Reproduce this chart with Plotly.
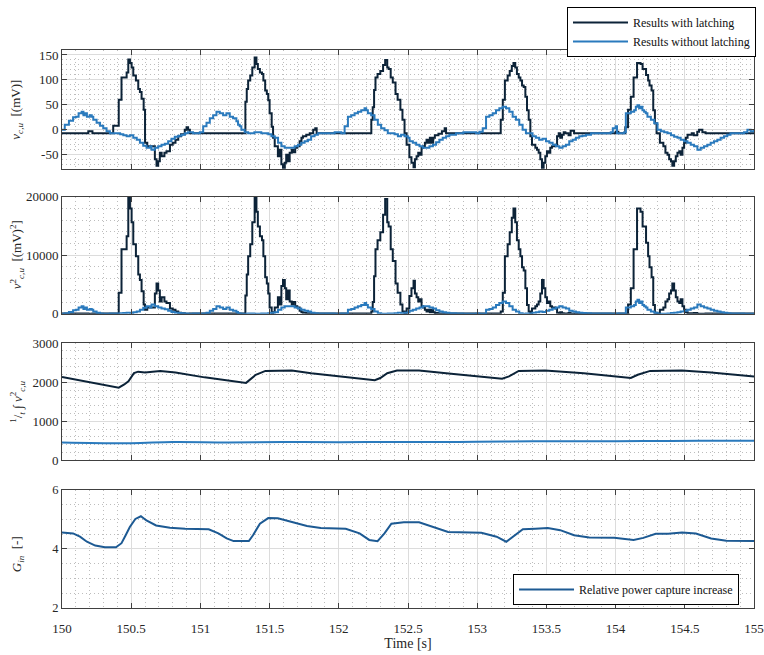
import plotly.graph_objects as go

# ---------------- data ----------------
t_lat = [150.00,150.19,150.22,150.37,150.41,150.43,150.455,150.467,150.479,150.491,150.503,150.515,150.534,150.551,150.563,150.575,150.59,150.60,150.616,150.659,150.671,150.683,150.695,150.707,150.72,150.74,150.755,150.78,150.80,150.82,150.84,150.86,150.887,150.90,150.911,150.924,
         151.325,151.335,151.345,151.36,151.375,151.392,151.405,151.415,151.43,151.445,151.455,151.468,151.48,151.49,151.50,151.515,151.525,151.537,151.56,151.573,151.585,151.597,151.61,151.62,151.633,151.645,151.66,151.67,151.685,151.70,151.717,151.73,151.741,151.765,151.79,151.815,151.83,151.84,
         152.235,152.245,152.255,152.265,152.28,152.30,152.32,152.335,152.35,152.36,152.375,152.39,152.41,152.425,152.445,152.46,152.475,152.49,152.51,152.525,152.54,152.55,152.562,152.574,152.586,152.598,152.61,152.622,152.634,152.646,152.658,152.67,152.682,152.694,152.72,152.745,152.765,152.775,
         153.17,153.185,153.20,153.22,153.235,153.25,153.262,153.275,153.287,153.30,153.312,153.324,153.336,153.348,153.36,153.372,153.384,153.396,153.42,153.432,153.444,153.456,153.468,153.48,153.492,153.504,153.516,153.528,153.54,153.565,153.577,153.589,153.60,153.613,153.625,153.637,153.66,153.675,153.70,
         154.00,154.02,154.07,154.09,154.11,154.13,154.155,154.18,154.195,154.22,154.235,154.245,154.26,154.272,154.284,154.296,154.32,154.345,154.36,154.375,154.387,154.40,154.41,154.423,154.435,154.447,154.46,154.47,154.483,154.495,154.507,154.52,154.55,154.565,154.59,154.603,154.627,154.65,155.00]
v_lat = [-7,-3,-7,8,60,105,105,115,141,134,125,109,99,82,76,62,40,-26,-33,-33,-59,-72,-63,-46,-53,-46,-43,-30,-26,-20,-13,-9,0,5,0,-7,
         56,82,99,109,125,145,132,122,115,112,99,79,72,59,33,6,-16,-33,-53,-40,-69,-76,-66,-50,-63,-46,-40,-45,-36,-33,-23,-16,-13,-10,-7,0,3,-7,
         20,45,80,105,112,118,130,140,125,122,105,95,72,60,40,20,-7,-30,-55,-66,-75,-59,-53,-46,-50,-36,-33,-26,-20,-26,-16,-26,-16,-11,-8,-3,3,-7,
         20,60,99,109,118,128,134,125,112,105,99,89,86,66,39,20,-13,-30,-36,-40,-46,-59,-76,-66,-53,-43,-46,-36,-33,-30,-13,-7,-16,-10,-5,-7,-11,-2,-7,
         -4,-7,5,40,66,105,134,132,122,110,99,89,79,39,13,-7,-26,-33,-46,-50,-59,-63,-72,-63,-53,-46,-43,-50,-36,-26,-16,-10,-7,-11,-4,0,-5,-7,-7]

t_nl = [150.00,150.02,150.05,150.08,150.10,150.12,150.142,150.155,150.165,150.18,150.20,150.215,150.226,150.25,150.275,150.298,150.322,150.346,150.42,150.443,150.467,150.49,150.515,150.54,150.563,150.587,150.611,150.635,150.647,150.67,150.695,150.719,150.743,150.767,150.791,150.815,150.84,150.864,150.888,150.91,150.947,150.996,
        151.02,151.044,151.068,151.092,151.116,151.14,151.164,151.188,151.212,151.236,151.26,151.272,151.284,151.296,151.32,151.345,151.39,151.44,151.49,151.513,151.537,151.561,151.585,151.609,151.681,151.705,151.729,151.753,151.777,151.80,151.825,151.849,151.97,
        152.018,152.042,152.066,152.09,152.114,152.138,152.162,152.186,152.198,152.21,152.234,152.258,152.282,152.306,152.33,152.354,152.403,152.427,152.45,152.475,152.499,152.511,152.535,152.559,152.583,152.607,152.655,152.68,152.703,152.727,152.751,152.775,152.799,152.847,152.90,152.992,
        153.016,153.04,153.064,153.088,153.112,153.136,153.16,153.184,153.208,153.232,153.256,153.28,153.304,153.328,153.352,153.40,153.424,153.448,153.472,153.497,153.521,153.545,153.569,153.593,153.617,153.641,153.665,153.689,153.713,153.737,153.76,153.786,153.822,153.94,153.965,153.98,
        154.00,154.01,154.062,154.074,154.11,154.134,154.146,154.158,154.17,154.182,154.194,154.206,154.218,154.23,154.255,154.279,154.303,154.327,154.351,154.375,154.40,154.423,154.447,154.47,154.495,154.519,154.543,154.567,154.591,154.615,154.639,154.663,154.687,154.711,154.735,154.759,154.783,154.807,154.83,154.928,154.952,154.976,155.00]
v_nl = [0,10,18,25,26,33,36,29,33,26,29,26,20,14,8,3,-3,-7,-9,-11,-13,-11,-16,-20,-26,-32,-36,-33,-40,-36,-33,-30,-28,-23,-18,-14,-12,-10,-7,-5,-7,-5,
        7,14,23,29,36,33,29,33,26,23,17,10,7,0,-5,-7,-5,-7,-9,-13,-16,-26,-33,-36,-33,-30,-26,-23,-20,-13,-10,-7,-5,
        -7,7,26,29,33,36,39,43,39,33,29,20,10,3,-1,-7,-9,-13,-10,-13,-16,-23,-26,-30,-33,-36,-33,-30,-25,-20,-16,-13,-10,-7,-5,-7,
        -4,3,26,29,33,39,43,46,43,36,26,20,10,0,-7,-13,-16,-20,-18,-23,-26,-30,-33,-36,-33,-30,-23,-20,-16,-13,-12,-10,-7,-7,-5,3,
        7,-7,-5,33,36,39,46,49,43,46,39,36,33,26,20,13,0,-3,-5,-7,-11,-14,-16,-20,-23,-26,-30,-33,-40,-36,-33,-30,-26,-23,-20,-16,-13,-10,-7,-5,0,-3,1]

# squared signal (panel 2) derived from the read voltages
v2_lat = [v * v for v in v_lat]
v2_nl = [v * v for v in v_nl]

t_avg = [150.0,150.41,150.45,150.48,150.52,150.55,150.6,150.71,150.82,151.03,151.33,151.36,151.4,151.47,151.66,151.8,152.01,152.26,152.3,152.35,152.42,152.58,152.83,153.18,153.23,153.3,153.49,153.77,154.11,154.16,154.25,154.48,154.69,155.0]
avg_lat = [2132,1860,1942,2025,2231,2270,2248,2289,2250,2124,1983,2066,2190,2289,2298,2231,2149,2050,2107,2231,2298,2298,2207,2091,2149,2289,2298,2231,2107,2190,2289,2298,2248,2149]
t_avg_nl = [150.0,150.5,150.8,151.2,151.6,152.0,152.3,152.6,153.0,153.4,153.8,154.2,154.6,155.0]
avg_nl = [458,440,470,460,472,462,470,468,476,490,488,495,500,500]

t_g = [150.0,150.08,150.13,150.18,150.24,150.31,150.39,150.43,150.46,150.49,150.53,150.57,150.61,150.68,150.78,150.89,151.06,151.13,151.19,151.24,151.35,151.38,151.43,151.49,151.56,151.66,151.77,151.87,152.05,152.15,152.22,152.28,152.33,152.38,152.47,152.58,152.68,152.79,153.03,153.14,153.21,153.26,153.33,153.42,153.51,153.6,153.7,153.81,153.99,154.13,154.2,154.29,154.38,154.48,154.58,154.69,154.8,155.0]
g_in = [4.55,4.52,4.41,4.24,4.11,4.05,4.05,4.19,4.46,4.74,5.01,5.10,4.96,4.79,4.71,4.68,4.66,4.52,4.35,4.26,4.26,4.46,4.85,5.04,5.03,4.90,4.77,4.70,4.68,4.52,4.30,4.26,4.52,4.85,4.90,4.90,4.74,4.57,4.54,4.41,4.24,4.41,4.66,4.68,4.70,4.63,4.46,4.38,4.37,4.30,4.37,4.51,4.51,4.55,4.52,4.35,4.27,4.26]

x_ticks = [150, 150.5, 151, 151.5, 152, 152.5, 153, 153.5, 154, 154.5, 155]
x_ticklabels = ["150", "150.5", "151", "151.5", "152", "152.5", "153", "153.5", "154", "154.5", "155"]
y1_ticks = [-50, 0, 50, 100, 150]
y2_ticks = [0, 10000, 20000]
y3_ticks = [0, 1000, 2000, 3000]
y4_ticks = [2, 4, 6]

# ---------------- figure ----------------
C_LAT = "#0c2338"
C_NL = "#2a7abd"
C_G = "#1d5a93"
FONT = "Liberation Serif"

fig = go.Figure()
fig.add_trace(go.Scatter(x=t_lat, y=v_lat, mode="lines", line=dict(color=C_LAT, width=2, shape="hv"),
                         name="Results with latching", xaxis="x", yaxis="y", legend="legend"))
fig.add_trace(go.Scatter(x=t_nl, y=v_nl, mode="lines", line=dict(color=C_NL, width=2, shape="hv"),
                         name="Results without latching", xaxis="x", yaxis="y", legend="legend"))
fig.add_trace(go.Scatter(x=t_lat, y=v2_lat, mode="lines", line=dict(color=C_LAT, width=2, shape="hv"),
                         showlegend=False, xaxis="x2", yaxis="y2"))
fig.add_trace(go.Scatter(x=t_nl, y=v2_nl, mode="lines", line=dict(color=C_NL, width=2, shape="hv"),
                         showlegend=False, xaxis="x2", yaxis="y2"))
fig.add_trace(go.Scatter(x=t_avg, y=avg_lat, mode="lines", line=dict(color=C_LAT, width=2),
                         showlegend=False, xaxis="x3", yaxis="y3"))
fig.add_trace(go.Scatter(x=t_avg_nl, y=avg_nl, mode="lines", line=dict(color=C_NL, width=2, shape="spline"),
                         showlegend=False, xaxis="x3", yaxis="y3"))
fig.add_trace(go.Scatter(x=t_g, y=g_in, mode="lines", line=dict(color=C_G, width=2),
                         name="Relative power capture increase", xaxis="x4", yaxis="y4", legend="legend2"))

H = 655.0
def dom(top, bottom):
    return [1 - bottom / H, 1 - top / H]

MINOR_GRID = dict(showgrid=True, gridcolor="#bdbdbd", griddash="1px,3px", gridwidth=1, ticks="")
common = dict(showline=True, linecolor="#404040", linewidth=1, mirror="ticks", ticks="inside",
              ticklen=5, tickcolor="#404040", showgrid=True, gridcolor="#dcdcdc", gridwidth=1,
              zeroline=False, ticklabeloverflow="allow",
              tickfont=dict(family=FONT, size=13, color="#262626"))

def minor_y(d):
    return dict(MINOR_GRID, dtick=d)

xa = dict(common, range=[150, 155], tickvals=x_ticks, ticktext=x_ticklabels,
          minor=dict(MINOR_GRID, dtick=0.1, tick0=150))

def yt(vals):
    return dict(tickvals=vals, ticktext=[str(v) for v in vals])

fig.update_layout(
    width=764, height=655,
    margin=dict(l=62, r=9, t=0, b=0),
    paper_bgcolor="white", plot_bgcolor="white",
    font=dict(family=FONT, size=12, color="#262626"),
    xaxis=dict(xa, anchor="y", showticklabels=False),
    xaxis2=dict(xa, anchor="y2", matches="x", showticklabels=False),
    xaxis3=dict(xa, anchor="y3", matches="x", showticklabels=False),
    xaxis4=dict(xa, anchor="y4", matches="x", showticklabels=True, ticklabelstandoff=8,
                title=dict(text="Time [s]", standoff=3, font=dict(family=FONT, size=14, color="#262626"))),
    yaxis=dict(common, domain=dom(44, 166), range=[-79, 160], **yt(y1_ticks),
               minor=minor_y(10), anchor="x"),
    yaxis2=dict(common, domain=dom(194, 314), range=[0, 20000], **yt(y2_ticks),
                minor=minor_y(2000), anchor="x2"),
    yaxis3=dict(common, domain=dom(344, 464), range=[0, 3000], **yt(y3_ticks),
                minor=minor_y(200), anchor="x3"),
    yaxis4=dict(common, domain=dom(494, 615), range=[2, 6], **yt(y4_ticks),
                minor=minor_y(0.5), anchor="x4"),
    legend=dict(x=(757 - 62) / 693, xanchor="right", y=1.0, yanchor="top", bgcolor="white",
                bordercolor="#000000", borderwidth=1, font=dict(family=FONT, size=12, color="#111111"),
                tracegroupgap=0, itemwidth=55),
    legend2=dict(x=(740 - 62) / 693, xanchor="right", y=1 - 612 / H, yanchor="bottom", bgcolor="white",
                 bordercolor="#000000", borderwidth=1, font=dict(family=FONT, size=12, color="#111111"),
                 itemwidth=55),
)
# y4 tick font slightly smaller so the middle label is not dropped
fig.update_layout(yaxis4_tickfont=dict(family=FONT, size=12.5, color="#262626"))

ylabels = [
    ("<i>v</i><sub><i>c,u</i></sub>  [(mV)]", 105),
    ("<i>v</i><sup>2</sup><sub><i>c,u</i></sub>  [(mV)<sup>2</sup>]", 254),
    ("<sup>1</sup>/<sub><i>t</i></sub> ∫ <i>v</i><sup>2</sup><sub><i>c,u</i></sub>", 404),
    ("<i>G</i><sub><i>in</i></sub>  [-]", 560),
]
for txt, py in ylabels:
    fig.add_annotation(text=txt, xref="paper", yref="paper", x=(17 - 62) / 693, y=1 - py / H,
                       xanchor="center", yanchor="middle", textangle=-90, showarrow=False,
                       font=dict(family=FONT, size=13, color="#262626"))

fig.write_html("out.html")
